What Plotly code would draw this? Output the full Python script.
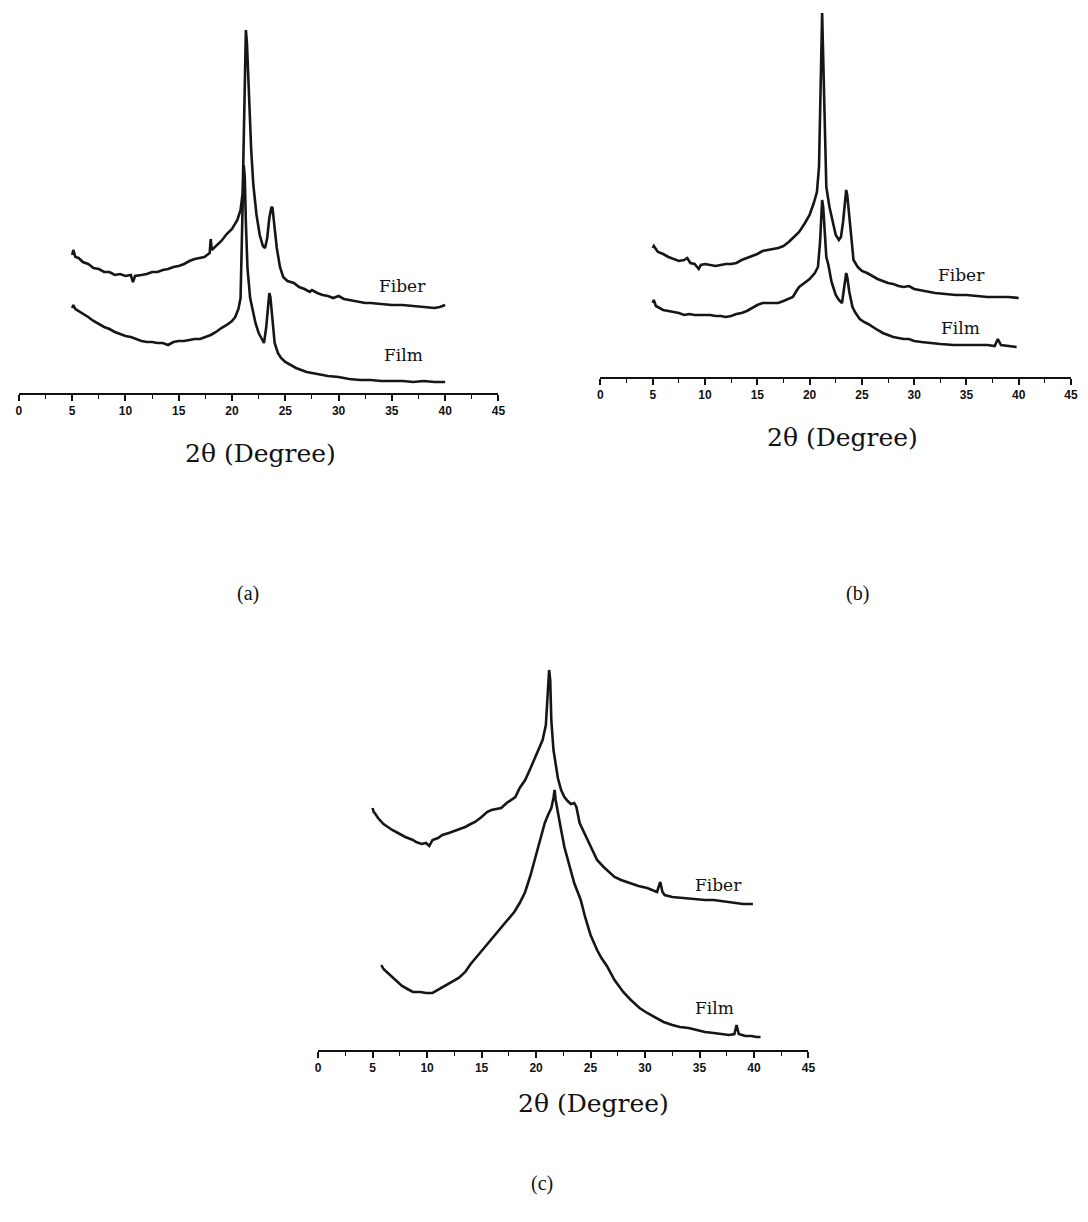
import plotly.graph_objects as go

# ---------------- data (2theta in degrees, intensity in arbitrary units) ----------------
tick_vals = [0, 5, 10, 15, 20, 25, 30, 35, 40, 45]
tick_text = ["0", "5", "10", "15", "20", "25", "30", "35", "40", "45"]

# panel (a)
fiber_a_x = [5.0, 5.1, 5.3, 5.6, 6.0, 6.5, 7.0, 7.5, 8.0, 8.5, 9.0, 9.5, 10.0, 10.5, 10.7, 10.9, 11.5, 12.0, 12.5,
             13.0, 13.5, 14.0, 14.5, 15.0, 15.5, 16.0, 16.5, 17.0, 17.4, 17.9, 18.0, 18.1, 18.5, 19.0, 19.5, 20.0,
             20.5, 20.8, 21.0, 21.1, 21.2, 21.3, 21.4, 21.5, 21.6, 21.8, 22.0, 22.3, 22.6, 22.9, 23.1, 23.3, 23.5,
             23.7, 23.8, 24.0, 24.2, 24.5, 24.8, 25.2, 25.8, 26.3, 26.8, 27.3, 27.5, 28.0, 28.5, 29.0, 29.5, 30.0,
             30.5, 31.0, 31.5, 32.0, 32.5, 33.0, 34.0, 35.0, 36.0, 37.0, 38.0, 39.0, 39.5, 40.0]
fiber_a_y = [138, 143, 136, 135, 131, 129, 125, 124, 121, 121, 118, 119, 117, 118, 111, 117, 118, 119, 121,
             121, 123, 124, 126, 127, 129, 132, 134, 135, 136, 140, 154, 143, 147, 152, 159, 164,
             173, 183, 200, 260, 330, 363, 350, 320, 288, 243, 208, 178, 158, 147, 145, 155, 175,
             186, 185, 165, 145, 126, 116, 112, 110, 106, 104, 101, 103, 100, 98, 97, 95, 97,
             94, 93, 92, 91, 90, 90, 89, 88, 88, 87, 86, 85, 86, 88]
film_a_x = [5.0, 5.1, 5.3, 5.6, 6.0, 6.5, 7.0, 7.5, 8.0, 8.5, 9.0, 9.5, 10.0, 10.5, 11.0, 11.5, 12.0, 12.5, 13.0,
            13.5, 14.0, 14.5, 15.0, 15.5, 16.0, 16.5, 17.0, 17.5, 18.0, 18.5, 19.0, 19.5, 20.0, 20.3, 20.6, 20.8,
            20.9, 21.0, 21.1, 21.2, 21.3, 21.45, 21.7, 21.9, 22.2, 22.5, 22.8, 23.0, 23.2, 23.4, 23.5, 23.6, 23.8,
            24.0, 24.3, 24.6, 25.0, 25.5, 26.0, 26.5, 27.0, 27.5, 28.0, 29.0, 30.0, 31.0, 32.0, 33.0, 34.0, 35.0,
            36.0, 37.0, 38.0, 39.0, 40.0]
film_a_y = [85, 88, 84, 82, 80, 76, 72, 69, 66, 64, 61, 59, 57, 56, 54, 52, 51, 51, 50,
            50, 48, 51, 52, 52, 53, 54, 54, 56, 58, 61, 65, 68, 72, 76, 84, 95,
            130, 190, 228, 215, 170, 125, 95, 86, 70, 60, 53, 50, 65, 92, 100, 96, 72,
            50, 40, 35, 31, 28, 25, 23, 21, 20, 19, 17, 16, 14, 13, 13, 12, 12,
            12, 11, 12, 11, 11]

# panel (b)
fiber_b_x = [5.0, 5.1, 5.5, 6.0, 6.5, 7.0, 7.5, 8.0, 8.3, 8.6, 9.0, 9.4, 9.6, 10.0, 10.5, 11.0, 11.5, 12.0, 12.5,
             13.0, 13.5, 14.0, 14.5, 15.0, 15.5, 16.0, 16.5, 17.0, 17.5, 18.0, 18.5, 19.0, 19.5, 20.0, 20.4, 20.7,
             20.9, 21.0, 21.1, 21.2, 21.3, 21.45, 21.6, 21.9, 22.2, 22.5, 22.8, 23.0, 23.2, 23.4, 23.5, 23.6, 23.8,
             24.0, 24.2, 24.6, 25.0, 25.5, 26.0, 26.5, 27.0, 27.5, 28.0, 28.5, 29.0, 29.5, 30.0, 31.0, 32.0, 33.0,
             34.0, 35.0, 36.0, 37.0, 38.0, 39.0, 40.0]
fiber_b_y = [129, 131, 125, 123, 120, 118, 116, 117, 119, 114, 113, 108, 112, 113, 112, 111, 112, 113, 113,
             114, 117, 119, 121, 123, 126, 127, 128, 129, 131, 135, 140, 145, 153, 162, 174, 185,
             210, 270, 345, 364, 320, 240, 190, 170, 155, 142, 137, 140, 155, 180, 187, 182, 160,
             135, 117, 110, 106, 104, 101, 98, 96, 94, 93, 91, 90, 91, 88, 86, 84, 83,
             82, 82, 81, 80, 80, 80, 79]
film_b_x = [5.0, 5.1, 5.3, 5.6, 6.0, 6.5, 7.0, 7.5, 8.0, 8.5, 9.0, 9.5, 10.0, 10.5, 11.0, 11.5, 12.0, 12.5, 13.0,
            13.5, 14.0, 14.5, 15.0, 15.5, 16.0, 16.5, 17.0, 17.5, 18.0, 18.4, 18.8, 19.0, 19.5, 20.0, 20.5, 20.8,
            21.0, 21.1, 21.2, 21.3, 21.45, 21.6, 21.8, 22.1, 22.5, 22.8, 23.1, 23.3, 23.5, 23.6, 23.8, 24.1, 24.4,
            24.8, 25.2, 25.6, 26.0, 26.5, 27.0, 27.5, 28.0, 28.5, 29.0, 29.5, 30.0, 30.7, 31.5, 32.5, 33.8, 35.0,
            36.0, 37.0, 37.7, 38.0, 38.3, 39.0, 39.8]
film_b_y = [74, 77, 71, 69, 67, 66, 65, 64, 62, 63, 62, 62, 62, 62, 61, 61, 60, 61, 63,
            64, 66, 69, 72, 74, 74, 74, 74, 76, 78, 80, 87, 90, 94, 98, 104, 110,
            135, 165, 177, 170, 140, 120, 112, 95, 82, 77, 74, 92, 104, 100, 85, 70, 64,
            58, 55, 53, 50, 47, 44, 42, 40, 39, 38, 38, 36, 35, 34, 33, 32, 32,
            32, 32, 31, 38, 32, 31, 30]

# panel (c)
fiber_c_x = [5.0, 5.1, 5.2, 5.5, 6.0, 6.5, 6.8, 7.5, 8.0, 8.7, 9.0, 9.5, 9.9, 10.2, 10.5, 11.0, 11.4, 12.0, 12.5,
             12.9, 13.5, 14.0, 14.4, 15.0, 15.5, 15.9, 16.4, 16.8, 17.3, 17.7, 18.1, 18.5, 19.0, 19.5, 20.0, 20.3,
             20.6, 20.9, 21.05, 21.2, 21.3, 21.4, 21.6, 21.8, 22.0, 22.3, 22.6, 22.9, 23.2, 23.5, 23.7, 24.0, 24.5,
             25.0, 25.6, 26.2, 26.7, 27.2, 27.8, 28.6, 29.4, 30.2, 30.7, 31.1, 31.3, 31.4, 31.6, 31.8, 32.5, 33.5,
             34.5, 35.5, 36.3, 37.0, 37.5, 38.0, 38.4, 39.0, 39.5, 39.9]
fiber_c_y = [242, 238, 237, 232, 226, 222, 220, 216, 213, 210, 208, 206, 207, 204, 210, 212, 215, 217, 219,
             220, 223, 226, 228, 233, 238, 240, 241, 242, 247, 250, 253, 262, 270, 282, 295, 303,
             310, 325, 350, 380, 370, 330, 300, 285, 272, 260, 253, 249, 246, 247, 243, 227, 215,
             203, 190, 183, 178, 173, 170, 167, 164, 162, 160, 158, 165, 168, 158, 155, 153, 152,
             151, 150, 150, 149, 148, 147, 147, 146, 146, 146]
film_c_x = [5.8, 6.0, 6.5, 7.0, 7.7, 8.2, 8.7, 9.4, 9.9, 10.5, 11.0, 11.7, 12.3, 12.9, 13.5, 14.0, 15.0, 16.0, 17.0,
            18.0, 18.5, 19.0, 19.5, 20.0, 20.5, 20.8, 21.1, 21.4, 21.6, 21.7, 21.8, 22.0, 22.3,
            22.6, 23.0, 23.5, 24.1, 24.5, 25.0, 25.6, 26.0, 26.5, 27.2, 28.0, 28.7, 29.5, 30.2, 31.0, 31.7, 32.5,
            33.2, 34.0, 34.7, 35.5, 36.3, 37.0, 37.7, 38.2, 38.4, 38.6, 39.2, 39.8, 40.2, 40.6]
film_c_y = [85, 81, 76, 71, 64, 61, 58, 58, 57, 57, 60, 64, 68, 72, 78, 86, 99, 112, 124,
            138, 147, 158, 175, 195, 215, 227, 235, 242, 252, 260, 250, 237, 220,
            203, 187, 167, 150, 133, 115, 100, 92, 84, 70, 58, 50, 42, 37, 32, 28, 25,
            23, 22, 20, 18, 17, 16, 15, 16, 25, 16, 14, 14, 13, 13]

labels_sample = ["Fiber", "Film"]
panel_labels = ["(a)", "(b)", "(c)"]
axis_title = "2θ (Degree)"

# ---------------- layout geometry ----------------
# positions below are page pixels of the 1088 x 1222 window; the page body has an 8 px margin
PAGE_W, PAGE_H, OFF = 1088, 1222, 8
W, H = PAGE_W - 2 * OFF, PAGE_H - 2 * OFF


def px(p):
    return (p - OFF) / W


def py(p):
    return 1 - (p - OFF) / H


panels = [
    # x pixel of 0, x pixel of 45, axis-line y pixel, top y pixel
    dict(x0=16, x45=500, axis=393, top=25),
    dict(x0=603, x45=1078, axis=377, top=8),
    dict(x0=318, x45=813, axis=1050, top=665),
]

fig = go.Figure()
series = [
    (fiber_a_x, fiber_a_y, film_a_x, film_a_y),
    (fiber_b_x, fiber_b_y, film_b_x, film_b_y),
    (fiber_c_x, fiber_c_y, film_c_x, film_c_y),
]
line_style = dict(color="#161616", width=2.6)
for i, (fx, fy, mx, my) in enumerate(series):
    xa = "x" if i == 0 else f"x{i+1}"
    ya = "y" if i == 0 else f"y{i+1}"
    fig.add_trace(go.Scatter(x=fx, y=fy, mode="lines", line=line_style, xaxis=xa, yaxis=ya,
                             showlegend=False, name="Fiber"))
    fig.add_trace(go.Scatter(x=mx, y=my, mode="lines", line=line_style, xaxis=xa, yaxis=ya,
                             showlegend=False, name="Film"))

layout = dict(width=W, height=H, margin=dict(l=0, r=0, t=0, b=0),
              paper_bgcolor="white", plot_bgcolor="white", showlegend=False)
for i, p in enumerate(panels):
    sfx = "" if i == 0 else str(i + 1)
    layout[f"xaxis{sfx}"] = dict(
        domain=[px(p["x0"]), min(px(p["x45"]), 1.0)], range=[0, 45], anchor=f"y{sfx}",
        showline=True, linecolor="#111", linewidth=1.6, showgrid=False, zeroline=False,
        ticks="outside", ticklen=6, tickwidth=1.6, tickcolor="#111",
        tickvals=tick_vals, ticktext=tick_text,
        tickfont=dict(family="Liberation Sans, Arial", size=12, color="#111", weight="bold"),
        minor=dict(dtick=2.5, tick0=0, ticks="outside", ticklen=4, tickwidth=1.3, tickcolor="#111"),
        fixedrange=True,
    )
    layout[f"yaxis{sfx}"] = dict(
        domain=[py(p["axis"]), py(p["top"])], range=[0, p["axis"] - p["top"]],
        anchor=f"x{sfx}", visible=False, showgrid=False, zeroline=False, fixedrange=True,
    )
fig.update_layout(**layout)

serif_wide = "DejaVu Serif, serif"
serif = "Liberation Serif, Times New Roman, serif"
# sample labels (data coordinates)
sample_pos = [
    [(36.0, 107), (36.1, 38)],
    [(34.5, 102), (34.4, 49)],
    [(36.7, 165), (36.4, 42)],
]
for i, pos in enumerate(sample_pos):
    sfx = "" if i == 0 else str(i + 1)
    for lab, (xx, yy) in zip(labels_sample, pos):
        fig.add_annotation(x=xx, y=yy, xref=f"x{sfx}", yref=f"y{sfx}", text=lab, showarrow=False,
                           font=dict(family=serif_wide, size=17, color="#111"), xanchor="center", yanchor="middle")

# axis titles and panel labels (paper coordinates)
title_pos = [(260, 453), (847, 437), (596, 1103)]
for (tx, ty) in title_pos:
    fig.add_annotation(x=px(tx), y=py(ty), xref="paper", yref="paper", text=axis_title, showarrow=False,
                       font=dict(family=serif_wide, size=25, color="#111"), xanchor="center", yanchor="middle")
plabel_pos = [(247, 593), (862, 593), (544, 1183)]
for lab, (tx, ty) in zip(panel_labels, plabel_pos):
    fig.add_annotation(x=px(tx), y=py(ty), xref="paper", yref="paper", text=lab, showarrow=False,
                       font=dict(family=serif, size=20, color="#111"), xanchor="center", yanchor="middle")

fig.write_html("out.html")
